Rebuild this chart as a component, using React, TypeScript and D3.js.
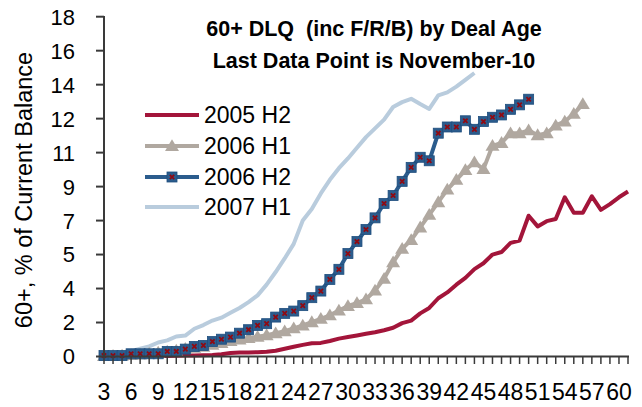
import React from "react";
import * as d3 from "d3";

const categories = [3,4,5,6,7,8,9,10,11,12,13,14,15,16,17,18,19,20,21,22,23,24,25,26,27,28,29,30,31,32,33,34,35,36,37,38,39,40,41,42,43,44,45,46,47,48,49,50,51,52,53,54,55,56,57,58,59,60,61];
const xTickLabels = [3,6,9,12,15,18,21,24,27,30,33,36,39,42,45,48,51,54,57,60];
const yTickValues = [0,1.75,3.5,5.25,7,8.75,10.5,12.25,14,15.75,17.5];
const yTickLabels = ["0","2","4","5","7","9","11","12","14","16","18"];

const s2005H2 = [0.0,0.0,0.01,0.01,0.02,0.02,0.03,0.03,0.04,0.05,0.05,0.06,0.08,0.12,0.18,0.2,0.21,0.22,0.25,0.3,0.4,0.5,0.6,0.68,0.7,0.8,0.92,1.0,1.08,1.17,1.25,1.35,1.48,1.72,1.85,2.22,2.5,3.0,3.3,3.7,4.05,4.5,4.8,5.25,5.38,5.85,5.97,7.25,6.7,6.97,7.08,8.2,7.4,7.4,8.25,7.55,7.85,8.2,8.5];
const s2006H1 = [0.02,0.03,0.05,0.08,0.1,0.15,0.2,0.25,0.3,0.4,0.45,0.5,0.6,0.7,0.8,0.88,0.95,1.02,1.1,1.2,1.3,1.45,1.6,1.77,1.94,2.12,2.37,2.6,2.75,2.95,3.4,4.0,4.85,5.55,6.0,6.65,7.3,7.95,8.6,9.1,9.6,10.0,9.65,10.85,11.0,11.5,11.5,11.65,11.4,11.5,11.9,12.1,12.5,13.0];
const s2006H2 = [0.05,0.05,0.05,0.14,0.14,0.14,0.14,0.26,0.26,0.38,0.52,0.57,0.77,0.89,1.0,1.2,1.38,1.6,1.69,2.03,2.22,2.34,2.62,3.03,3.37,3.97,4.49,5.3,5.92,6.54,7.14,7.88,8.29,9.02,9.74,10.26,10.08,11.5,11.82,11.82,12.14,11.7,12.1,12.32,12.44,12.73,12.96,13.25];
const s2007H1 = [0.05,0.08,0.15,0.27,0.4,0.52,0.72,0.83,1.03,1.08,1.43,1.62,1.85,2.0,2.25,2.5,2.8,3.15,3.7,4.35,5.05,5.8,7.0,7.6,8.4,9.1,9.7,10.2,10.75,11.3,11.75,12.2,12.85,13.1,13.27,13.0,12.75,13.45,13.6,13.9,14.25,14.6];

const seriesNames = ["2005 H2", "2006 H1", "2006 H2", "2007 H1"];

const W = 642, H = 407;
const FONT = "'Liberation Sans', Arial, sans-serif";
const C_RED = "#A3153A";
const C_GRAY = "#B0A8A0";
const C_BLUE = "#2B5C8D";
const C_BLUE_EDGE = "#1F4E7E";
const C_LBLUE = "#B9CCDD";
const C_X = "#8E0B14";

const x = d3.scalePoint<number>().domain(categories).range([104, 628]);
const y = d3.scaleLinear().domain([0, 17.5]).range([356.5, 16.7]);

const line = d3
  .line<number>()
  .x((_, i) => x(categories[i]) as number)
  .y((d) => y(d));

const TRI = "M0,-6.8L7,5L-7,5Z";

function Square({ cx, cy }: { cx: number; cy: number }) {
  return (
    <g transform={`translate(${cx},${cy})`}>
      <rect x={-5} y={-5} width={10} height={10} fill={C_BLUE} stroke={C_BLUE_EDGE} strokeWidth={0.8} />
      <path d="M-2.2,-2.2L2.2,2.2M2.2,-2.2L-2.2,2.2" stroke={C_X} strokeWidth={1.8} />
    </g>
  );
}

export default function App() {
  const legendY = [115, 146, 177, 207];
  return (
    <svg width={W} height={H} style={{ display: "block", position: "absolute", left: 0, top: 0, background: "#fff" }} fontFamily={FONT}>
      {/* title */}
      <text x={374} y={36} textAnchor="middle" fontSize={21.5} fontWeight="bold" style={{ whiteSpace: "pre" }}>{"60+ DLQ  (inc F/R/B) by Deal Age"}</text>
      <text x={374} y={68} textAnchor="middle" fontSize={21.5} fontWeight="bold">Last Data Point is November-10</text>

      {/* y axis title */}
      <text transform="translate(32,190) rotate(-90)" textAnchor="middle" fontSize={23.5}>60+, % of Current Balance</text>

      {/* series lines */}
      <path d={line(s2007H1) || ""} fill="none" stroke={C_LBLUE} strokeWidth={4} strokeLinejoin="round" />
      <path d={line(s2005H2) || ""} fill="none" stroke={C_RED} strokeWidth={4} strokeLinejoin="round" />
      <path d={line(s2006H1) || ""} fill="none" stroke={C_GRAY} strokeWidth={4} strokeLinejoin="round" />
      {s2006H1.map((d, i) => (
        <path key={"t" + i} d={TRI} transform={`translate(${x(categories[i])},${y(d)})`} fill={C_GRAY} />
      ))}
      <path d={line(s2006H2) || ""} fill="none" stroke={C_BLUE} strokeWidth={4} strokeLinejoin="round" />
      {s2006H2.map((d, i) => (
        <Square key={"s" + i} cx={x(categories[i]) as number} cy={y(d)} />
      ))}

      {/* axes */}
      <line x1={104} x2={104} y1={16} y2={357} stroke="#3a3a3a" strokeWidth={2} />
      <line x1={103} x2={629} y1={356.5} y2={356.5} stroke="#3a3a3a" strokeWidth={2} />
      {yTickValues.map((v, i) => (
        <g key={"y" + i}>
          <line x1={96} x2={104} y1={y(v)} y2={y(v)} stroke="#3a3a3a" strokeWidth={2} />
          <text x={75} y={y(v)} dy="0.36em" textAnchor="end" fontSize={22}>{yTickLabels[i]}</text>
        </g>
      ))}
      {categories.map((c) => (
        <line key={"xt" + c} x1={x(c)} x2={x(c)} y1={356.5} y2={364} stroke="#3a3a3a" strokeWidth={1.5} />
      ))}
      {xTickLabels.map((c) => (
        <text key={"xl" + c} x={x(c)} y={400} textAnchor="middle" fontSize={23}>{c}</text>
      ))}

      {/* legend */}
      {seriesNames.map((name, i) => {
        const ly = legendY[i];
        const color = [C_RED, C_GRAY, C_BLUE, C_LBLUE][i];
        return (
          <g key={name}>
            <line x1={145} x2={199} y1={ly} y2={ly} stroke={color} strokeWidth={4} />
            {i === 1 && <path d={TRI} transform={`translate(172,${ly})`} fill={C_GRAY} />}
            {i === 2 && <Square cx={172} cy={ly} />}
            <text x={204} y={ly} dy="0.36em" fontSize={23}>{name}</text>
          </g>
        );
      })}
    </svg>
  );
}
